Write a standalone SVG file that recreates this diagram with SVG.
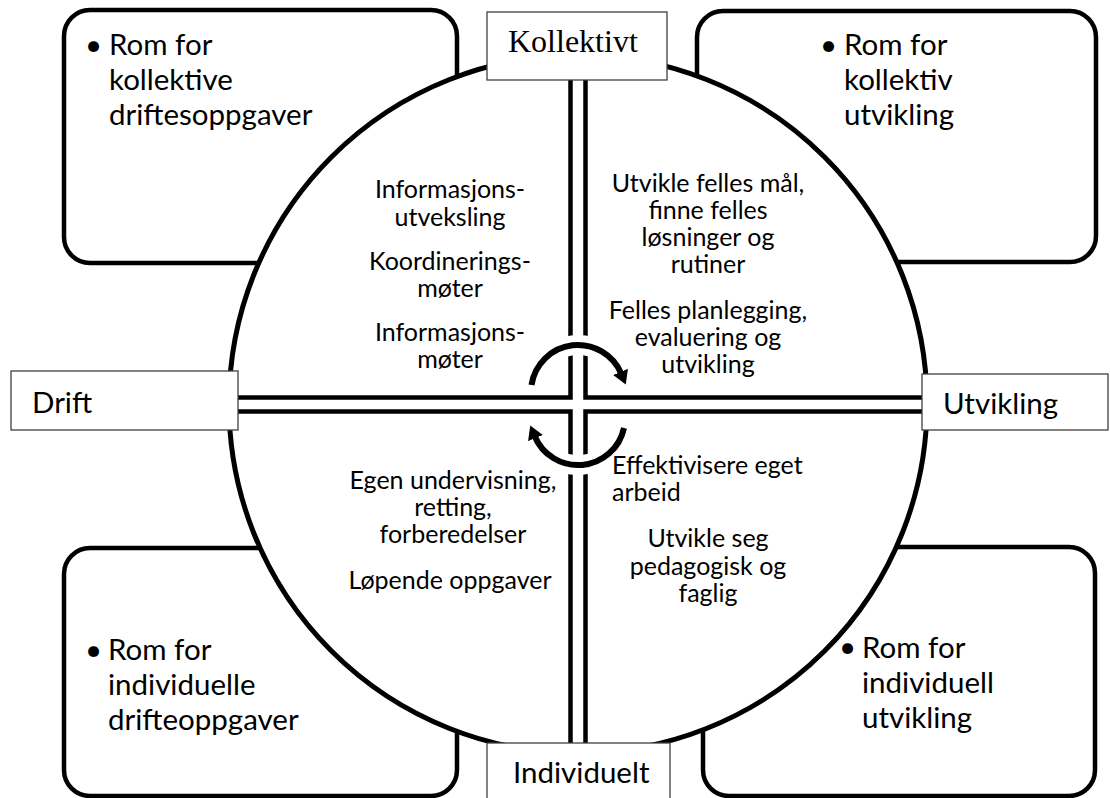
<svg xmlns="http://www.w3.org/2000/svg" width="1110" height="798" viewBox="0 0 1110 798">
<defs>
<style>
.box{fill:#fff;stroke:#000;stroke-width:4.5}
.lbl{fill:#fff;stroke:#404040;stroke-width:1.3}
.circ{fill:#fff;stroke:#000;stroke-width:5}
.dl{fill:none;stroke:#000;stroke-width:4.5;stroke-linejoin:miter}
.halo{fill:none;stroke:#fff;stroke-width:20}
.arc{fill:none;stroke:#000;stroke-width:6}
text{font-family:Lato,"Liberation Sans",sans-serif;fill:#000}
.big{font-size:29.5px}
.sm{font-size:25px}
.mid{text-anchor:middle}
.serif{font-family:"Liberation Serif","Times New Roman",serif;font-size:32px}
</style>
<marker id="ah" markerUnits="userSpaceOnUse" markerWidth="16" markerHeight="16" refX="2" refY="7" orient="auto" viewBox="0 0 14 14">
<path d="M0,0 L12,7 L0,14 Z" fill="#000"/>
</marker>
</defs>
<rect width="1110" height="798" fill="#fff"/>

<g id="box-kollektiv-drift"><rect class="box" x="64" y="10" width="393" height="253" rx="26"/></g>
<g id="box-kollektiv-utvikling"><rect class="box" x="697" y="11" width="399" height="251" rx="26"/></g>
<g id="box-individuell-drift"><rect class="box" x="64" y="548" width="393" height="248" rx="26"/></g>
<g id="box-individuell-utvikling"><rect class="box" x="703" y="547" width="392" height="249" rx="26"/></g>

<g id="circle"><circle class="circ" cx="578" cy="404" r="349"/></g>

<g id="box-texts">
<text class="big" x="85" y="55">•</text>
<text class="big" x="109" y="55">Rom for</text>
<text class="big" x="109" y="90">kollektive</text>
<text class="big" x="109" y="125">driftesoppgaver</text>
<text class="big" x="820" y="55">•</text>
<text class="big" x="844" y="55">Rom for</text>
<text class="big" x="844" y="90">kollektiv</text>
<text class="big" x="844" y="125">utvikling</text>
<text class="big" x="85" y="660">•</text>
<text class="big" x="108" y="660">Rom for</text>
<text class="big" x="108" y="695">individuelle</text>
<text class="big" x="108" y="730">drifteoppgaver</text>
<text class="big" x="839" y="657">•</text>
<text class="big" x="862" y="658">Rom for</text>
<text class="big" x="862" y="693">individuell</text>
<text class="big" x="862" y="728">utvikling</text>
</g>

<g id="connectors">
<polyline class="dl" points="570.5,80 570.5,397.5 238,397.5"/>
<polyline class="dl" points="585.5,80 585.5,397.5 922,397.5"/>
<polyline class="dl" points="238,411.5 570.5,411.5 570.5,743"/>
<polyline class="dl" points="922,411.5 585.5,411.5 585.5,743"/>
<path class="halo" d="M531.5,385 A47,47 0 0 1 621.4,374"/>
<path class="arc" d="M531.5,385 A47,47 0 0 1 621.4,374" marker-end="url(#ah)"/>
<path class="halo" d="M624,428 A47,47 0 0 1 534.6,436"/>
<path class="arc" d="M624,428 A47,47 0 0 1 534.6,436" marker-end="url(#ah)"/>
</g>

<g id="inner-texts">
<text class="sm mid" x="450" y="198">Informasjons-</text>
<text class="sm mid" x="450" y="226">utveksling</text>
<text class="sm mid" x="450" y="270">Koordinerings-</text>
<text class="sm mid" x="450" y="297">møter</text>
<text class="sm mid" x="450" y="341">Informasjons-</text>
<text class="sm mid" x="450" y="368">møter</text>
<text class="sm mid" x="708" y="192">Utvikle felles mål,</text>
<text class="sm mid" x="708" y="219">finne felles</text>
<text class="sm mid" x="708" y="246">løsninger og</text>
<text class="sm mid" x="708" y="273">rutiner</text>
<text class="sm mid" x="708" y="319">Felles planlegging,</text>
<text class="sm mid" x="708" y="346">evaluering og</text>
<text class="sm mid" x="708" y="373">utvikling</text>
<text class="sm mid" x="453" y="489">Egen undervisning,</text>
<text class="sm mid" x="453" y="516">retting,</text>
<text class="sm mid" x="453" y="543">forberedelser</text>
<text class="sm mid" x="450" y="589">Løpende oppgaver</text>
<text class="sm" x="612" y="474">Effektivisere eget</text>
<text class="sm" x="612" y="501">arbeid</text>
<text class="sm mid" x="708" y="547">Utvikle seg</text>
<text class="sm mid" x="708" y="575">pedagogisk og</text>
<text class="sm mid" x="708" y="602">faglig</text>
</g>

<g id="label-kollektivt"><rect class="lbl" x="487" y="12" width="180" height="68"/><text class="serif" x="508" y="52">Kollektivt</text></g>
<g id="label-drift"><rect class="lbl" x="11" y="371" width="227" height="59"/><text class="big" x="32" y="413">Drift</text></g>
<g id="label-utvikling"><rect class="lbl" x="922" y="374" width="186" height="56"/><text class="big" x="943" y="414">Utvikling</text></g>
<g id="label-individuelt"><rect class="lbl" x="487" y="743" width="183" height="60"/><text class="big" x="513" y="783">Individuelt</text></g>
</svg>
